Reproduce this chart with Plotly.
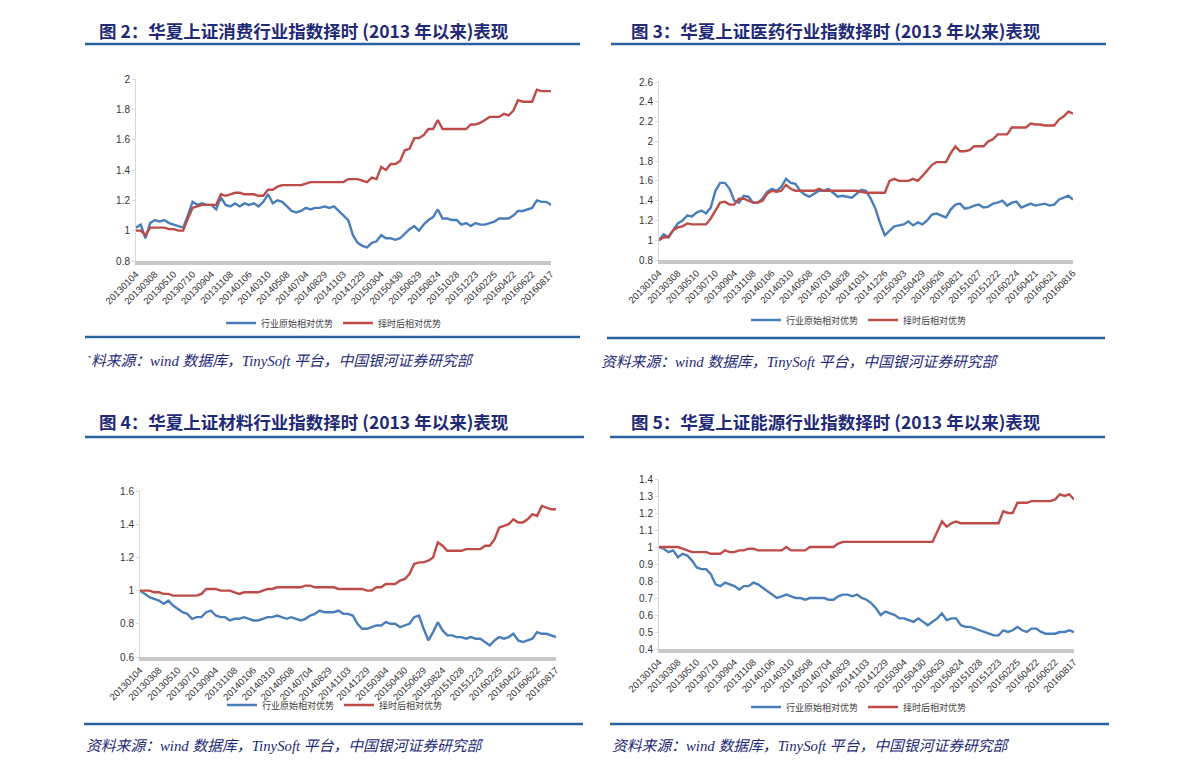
import plotly.graph_objects as go

# ---------------- data ----------------
ticks_main = ["20130104", "20130308", "20130510", "20130710", "20130904", "20131108",
              "20140106", "20140310", "20140508", "20140704", "20140829", "20141103",
              "20141229", "20150304", "20150430", "20150629", "20150824", "20151028",
              "20151223", "20160225", "20160422", "20160622", "20160817"]
ticks_med = ["20130104", "20130308", "20130510", "20130710", "20130904", "20131108",
             "20140106", "20140310", "20140508", "20140703", "20140828", "20141031",
             "20141226", "20150303", "20150429", "20150626", "20150821", "20151027",
             "20151222", "20160224", "20160421", "20160621", "20160816"]

series_names = ["行业原始相对优势", "择时后相对优势"]

# 图2 消费
cons_raw = [1.02,
            1.04, 0.95, 1.05, 1.07, 1.06, 1.07, 1.05, 1.04, 1.03, 1.02, 1.10, 1.19,
            1.17, 1.18, 1.17, 1.17, 1.14, 1.22, 1.17, 1.16, 1.18, 1.16, 1.18, 1.17,
            1.18, 1.16, 1.19, 1.24, 1.18, 1.20, 1.19, 1.16, 1.13, 1.12, 1.13, 1.15,
            1.14, 1.15, 1.15, 1.16, 1.15, 1.16, 1.13, 1.10, 1.07, 0.97, 0.92, 0.90,
            0.89, 0.92, 0.93, 0.97, 0.95, 0.95, 0.94, 0.95, 0.98, 1.01, 1.03, 1.00,
            1.04, 1.07, 1.09, 1.14, 1.08, 1.08, 1.07, 1.07, 1.04, 1.05, 1.03, 1.05,
            1.04, 1.04, 1.05, 1.06, 1.08, 1.08, 1.08, 1.10, 1.13, 1.13, 1.14, 1.15,
            1.20, 1.19, 1.19, 1.17]
cons_timed = [1.00,
              1.00, 0.97, 1.02, 1.02, 1.02, 1.02, 1.01, 1.01, 1.00, 1.00, 1.08, 1.15,
              1.16, 1.17, 1.17, 1.17, 1.17, 1.24, 1.23, 1.24, 1.25, 1.25, 1.24, 1.24,
              1.24, 1.23, 1.23, 1.27, 1.27, 1.29, 1.30, 1.30, 1.30, 1.30, 1.30, 1.31,
              1.32, 1.32, 1.32, 1.32, 1.32, 1.32, 1.32, 1.32, 1.34, 1.34, 1.34, 1.33,
              1.32, 1.35, 1.34, 1.42, 1.40, 1.44, 1.44, 1.46, 1.53, 1.54, 1.61, 1.61,
              1.63, 1.67, 1.67, 1.73, 1.67, 1.67, 1.67, 1.67, 1.67, 1.67, 1.70, 1.70,
              1.71, 1.73, 1.75, 1.75, 1.75, 1.77, 1.76, 1.79, 1.86, 1.85, 1.85, 1.85,
              1.93, 1.92, 1.92, 1.92]

# 图3 医药
med_raw = [1.00,
           1.06, 1.03, 1.10, 1.17, 1.20, 1.25, 1.24, 1.28, 1.30, 1.27, 1.33, 1.50,
           1.58, 1.58, 1.52, 1.40, 1.38, 1.45, 1.44, 1.38, 1.38, 1.42, 1.49, 1.52,
           1.50, 1.54, 1.62, 1.58, 1.57, 1.50, 1.46, 1.44, 1.47, 1.50, 1.50, 1.52,
           1.48, 1.44, 1.45, 1.44, 1.43, 1.47, 1.51, 1.50, 1.42, 1.32, 1.17, 1.05,
           1.10, 1.14, 1.15, 1.16, 1.19, 1.15, 1.18, 1.16, 1.20, 1.26, 1.27, 1.25,
           1.23, 1.31, 1.36, 1.37, 1.32, 1.33, 1.35, 1.36, 1.33, 1.34, 1.37, 1.38,
           1.40, 1.35, 1.38, 1.39, 1.33, 1.35, 1.37, 1.35, 1.36, 1.37, 1.35, 1.36,
           1.41, 1.43, 1.45, 1.41]
med_timed = [1.00,
             1.03, 1.03, 1.10, 1.13, 1.14, 1.17, 1.16, 1.16, 1.16, 1.16, 1.22, 1.30,
             1.38, 1.39, 1.36, 1.36, 1.42, 1.42, 1.40, 1.38, 1.38, 1.40, 1.47, 1.50,
             1.49, 1.50, 1.56, 1.52, 1.50, 1.50, 1.50, 1.50, 1.50, 1.52, 1.50, 1.50,
             1.50, 1.50, 1.50, 1.50, 1.50, 1.50, 1.49, 1.48, 1.48, 1.48, 1.48, 1.48,
             1.60, 1.62, 1.60, 1.60, 1.60, 1.62, 1.60, 1.65, 1.70, 1.76, 1.79, 1.79,
             1.79, 1.88, 1.95, 1.90, 1.90, 1.91, 1.95, 1.95, 1.95, 2.00, 2.02, 2.07,
             2.07, 2.07, 2.14, 2.14, 2.14, 2.14, 2.18, 2.17, 2.17, 2.16, 2.16, 2.16,
             2.22, 2.25, 2.30, 2.28]

# 图4 材料
mat_raw = [1.00,
           0.98, 0.96, 0.95, 0.94, 0.92, 0.94, 0.91, 0.89, 0.87, 0.86, 0.83, 0.84,
           0.84, 0.87, 0.88, 0.85, 0.84, 0.84, 0.82, 0.83, 0.83, 0.84, 0.83, 0.82,
           0.82, 0.83, 0.84, 0.84, 0.85, 0.84, 0.83, 0.84, 0.83, 0.82, 0.83, 0.85,
           0.86, 0.88, 0.87, 0.87, 0.87, 0.88, 0.86, 0.86, 0.85, 0.80, 0.77, 0.77,
           0.78, 0.79, 0.79, 0.81, 0.80, 0.80, 0.78, 0.79, 0.80, 0.84, 0.85, 0.77,
           0.70, 0.75, 0.81, 0.76, 0.73, 0.73, 0.72, 0.72, 0.71, 0.72, 0.71, 0.71,
           0.69, 0.67, 0.70, 0.72, 0.71, 0.72, 0.74, 0.70, 0.69, 0.70, 0.71, 0.75,
           0.74, 0.74, 0.73, 0.72]
mat_timed = [1.00,
             1.00, 1.00, 0.99, 0.99, 0.98, 0.98, 0.97, 0.97, 0.97, 0.97, 0.97, 0.97,
             0.98, 1.01, 1.01, 1.01, 1.00, 1.00, 1.00, 0.99, 0.98, 0.99, 0.99, 0.99,
             0.99, 1.00, 1.01, 1.01, 1.02, 1.02, 1.02, 1.02, 1.02, 1.02, 1.03, 1.03,
             1.02, 1.02, 1.02, 1.02, 1.02, 1.01, 1.01, 1.01, 1.01, 1.01, 1.01, 1.00,
             1.00, 1.02, 1.02, 1.04, 1.04, 1.04, 1.06, 1.07, 1.10, 1.16, 1.17, 1.17,
             1.18, 1.20, 1.29, 1.27, 1.24, 1.24, 1.24, 1.24, 1.25, 1.25, 1.25, 1.25,
             1.27, 1.27, 1.31, 1.38, 1.39, 1.40, 1.43, 1.41, 1.41, 1.43, 1.46, 1.45,
             1.51, 1.50, 1.49, 1.49]

# 图5 能源
eng_raw = [1.00,
           0.99, 0.97, 0.98, 0.94, 0.96, 0.95, 0.92, 0.88, 0.87, 0.87, 0.84, 0.78,
           0.77, 0.79, 0.78, 0.77, 0.75, 0.77, 0.77, 0.79, 0.78, 0.76, 0.74, 0.72,
           0.70, 0.71, 0.72, 0.71, 0.70, 0.70, 0.69, 0.70, 0.70, 0.70, 0.70, 0.69,
           0.69, 0.71, 0.72, 0.72, 0.71, 0.72, 0.70, 0.69, 0.67, 0.64, 0.60, 0.62,
           0.61, 0.60, 0.58, 0.58, 0.57, 0.56, 0.58, 0.56, 0.54, 0.56, 0.58, 0.61,
           0.57, 0.58, 0.58, 0.54, 0.53, 0.53, 0.52, 0.51, 0.50, 0.49, 0.48, 0.48,
           0.51, 0.50, 0.51, 0.53, 0.51, 0.50, 0.52, 0.52, 0.50, 0.49, 0.49, 0.49,
           0.50, 0.50, 0.51, 0.50]
eng_timed = [1.00,
             1.00, 1.00, 1.00, 1.00, 0.99, 0.98, 0.97, 0.97, 0.97, 0.97, 0.96, 0.96,
             0.96, 0.98, 0.97, 0.97, 0.98, 0.98, 0.99, 0.99, 0.98, 0.98, 0.98, 0.98,
             0.98, 0.98, 1.00, 0.98, 0.98, 0.98, 0.98, 1.00, 1.00, 1.00, 1.00, 1.00,
             1.00, 1.02, 1.03, 1.03, 1.03, 1.03, 1.03, 1.03, 1.03, 1.03, 1.03, 1.03,
             1.03, 1.03, 1.03, 1.03, 1.03, 1.03, 1.03, 1.03, 1.03, 1.03, 1.09, 1.15,
             1.12, 1.14, 1.15, 1.14, 1.14, 1.14, 1.14, 1.14, 1.14, 1.14, 1.14, 1.14,
             1.21, 1.20, 1.20, 1.26, 1.26, 1.26, 1.27, 1.27, 1.27, 1.27, 1.27, 1.28,
             1.31, 1.30, 1.31, 1.28]

titles = ["图 2：华夏上证消费行业指数择时 (2013 年以来)表现",
          "图 3：华夏上证医药行业指数择时 (2013 年以来)表现",
          "图 4：华夏上证材料行业指数择时 (2013 年以来)表现",
          "图 5：华夏上证能源行业指数择时 (2013 年以来)表现"]
sources = ["`料来源：wind 数据库，TinySoft 平台，中国银河证券研究部",
           "资料来源：wind 数据库，TinySoft 平台，中国银河证券研究部",
           "资料来源：wind 数据库，TinySoft 平台，中国银河证券研究部",
           "资料来源：wind 数据库，TinySoft 平台，中国银河证券研究部"]

# ---------------- layout helpers ----------------
PAGE_OFF = 8                      # default body margin of the html page
W, H = 1191 - PAGE_OFF, 774 - PAGE_OFF
def px_x(p): return (p - PAGE_OFF - 1) / W
def px_y(p): return 1 - (p - PAGE_OFF) / H

BLUE = "#4a7ebb"
RED = "#be4b48"
NAVY = "#1e2a78"
RULE = "#2a62a0"
CJK = "Noto Sans CJK SC"
LAT = "Liberation Sans, Arial, sans-serif"

panels = [
    dict(raw=cons_raw, timed=cons_timed, ticks=ticks_main, box=(137, 552, 79, 261), yr=(0.8, 2.0), dt=0.2,
         leg=(335, 323), title=(98, 30), rule1=(86, 581, 44), rule2=(86, 581, 337), src=(85, 361)),
    dict(raw=med_raw, timed=med_timed, ticks=ticks_med, box=(660, 1074, 82, 260), yr=(0.8, 2.6), dt=0.2,
         leg=(860, 320), title=(630, 30), rule1=(612, 1107, 44), rule2=(608, 1106, 338), src=(600, 362)),
    dict(raw=mat_raw, timed=mat_timed, ticks=ticks_main, box=(141, 557, 491, 657), yr=(0.6, 1.6), dt=0.2,
         leg=(336, 705), title=(98, 421), rule1=(86, 585, 437), rule2=(85, 584, 724), src=(85, 746)),
    dict(raw=eng_raw, timed=eng_timed, ticks=ticks_main, box=(660, 1075, 479, 649), yr=(0.4, 1.4), dt=0.1,
         leg=(860, 707), title=(630, 421), rule1=(611, 1106, 437), rule2=(611, 1110, 724), src=(611, 746)),
]

fig = go.Figure()
layout = dict(width=W, height=H, margin=dict(l=0, r=0, t=0, b=0, pad=0, autoexpand=False),
              paper_bgcolor="white", plot_bgcolor="white", showlegend=True)
annotations, shapes = [], []

for i, p in enumerate(panels):
    k = "" if i == 0 else str(i + 1)
    xa, ya = "x" + k, "y" + k
    leg = "legend" + k
    n = len(p["raw"])
    xs = list(range(n))
    step = (n - 1) / (len(p["ticks"]) - 1)
    tickvals = [j * step for j in range(len(p["ticks"]))]
    for vals, name, col in ((p["raw"], series_names[0], BLUE), (p["timed"], series_names[1], RED)):
        fig.add_trace(go.Scatter(x=xs, y=vals, mode="lines", name=name, xaxis=xa, yaxis=ya,
                                 legend=leg, line=dict(color=col, width=2.4)))
    x0, x1, yt, yb = p["box"]
    layout["xaxis" + k] = dict(domain=[px_x(x0), px_x(x1)], range=[0, n - 1], anchor=ya,
                               tickmode="array", tickvals=tickvals, ticktext=p["ticks"],
                               tickangle=-45, tickfont=dict(family=LAT, size=9.5, color="#333333"),
                               showline=True, linecolor="#c8c8c8", linewidth=4, ticks="",
                               showgrid=False, zeroline=False, fixedrange=True, automargin=False)
    layout["yaxis" + k] = dict(domain=[px_y(yb), px_y(yt)], range=list(p["yr"]), anchor=xa,
                               dtick=p["dt"], tick0=0, tickfont=dict(family=LAT, size=10, color="#333333"),
                               showline=True, linecolor="#d9d9d9", linewidth=1, ticks="outside",
                               ticklen=3, tickcolor="#d9d9d9", showgrid=False, zeroline=False,
                               fixedrange=True, automargin=False)
    lx, ly = p["leg"]
    layout[leg] = dict(x=px_x(lx), y=px_y(ly), xanchor="center", yanchor="middle",
                       orientation="h", font=dict(family=CJK, size=9, color="#404040"),
                       bgcolor="rgba(0,0,0,0)", itemwidth=30, tracegroupgap=0)
    tx, ty = p["title"]
    annotations.append(dict(text="<b>" + titles[i] + "</b>", x=px_x(tx), y=px_y(ty), xref="paper",
                            yref="paper", xanchor="left", yanchor="middle", showarrow=False,
                            font=dict(family=CJK, size=17.5, color=NAVY)))
    sx, sy = p["src"]
    annotations.append(dict(text="<i>" + sources[i] + "</i>", x=px_x(sx), y=px_y(sy), xref="paper",
                            yref="paper", xanchor="left", yanchor="middle", showarrow=False,
                            font=dict(family="Liberation Serif, " + CJK, size=14.8, color=NAVY)))
    for (ra, rb, ry) in (p["rule1"], p["rule2"]):
        shapes.append(dict(type="line", xref="paper", yref="paper", x0=px_x(ra), x1=px_x(rb),
                           y0=px_y(ry), y1=px_y(ry), line=dict(color=RULE, width=2.5)))

layout["annotations"] = annotations
layout["shapes"] = shapes
fig.update_layout(**layout)
fig.write_html("out.html")
